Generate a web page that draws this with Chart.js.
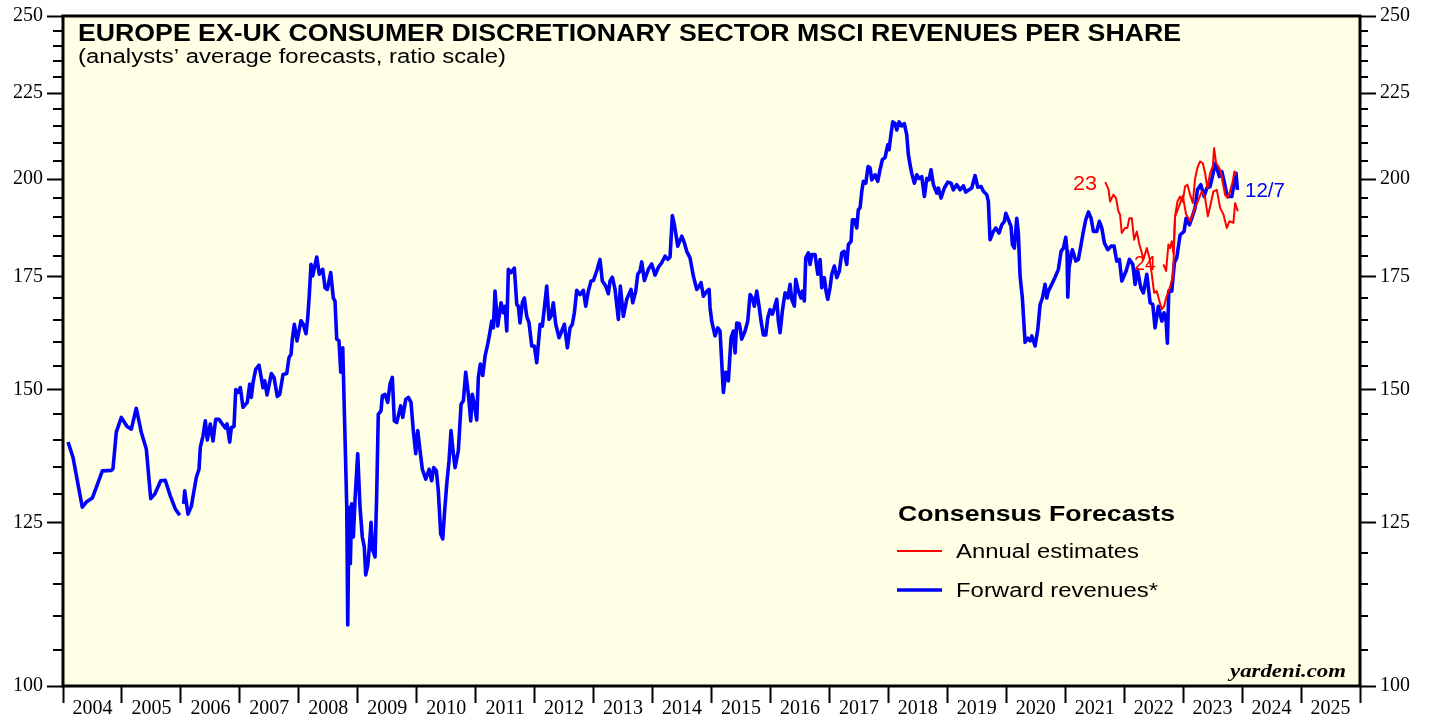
<!DOCTYPE html>
<html><head><meta charset="utf-8">
<script src="https://cdn.jsdelivr.net/npm/chart.js@4/dist/chart.umd.min.js"></script>
<style>html,body{margin:0;padding:0;background:#fff;overflow:hidden}</style>
</head><body>
<canvas id="c" width="1429" height="717"></canvas>
<script>
// ---------- DATA ----------
const yearLabels = ['2004','2005','2006','2007','2008','2009','2010','2011','2012','2013','2014','2015','2016','2017','2018','2019','2020','2021','2022','2023','2024','2025'];
const yearBounds = [2004,2005,2006,2007,2008,2009,2010,2011,2012,2013,2014,2015,2016,2017,2018,2019,2020,2021,2022,2023,2024,2025,2026];
const yMajorTicks = [100,125,150,175,200,225,250];
const yMinorTicks = [105,110,115,120,130,135,140,145,155,160,165,170,180,185,190,195,205,210,215,220,230,235,240,245];

const fwdYears = [
2004.085,2004.170,2004.254,2004.327,2004.395,2004.497,2004.565,2004.667,2004.819,2004.848,2004.904,2004.989,
2005.086,2005.159,2005.243,2005.328,2005.413,2005.488,2005.556,2005.657,2005.735,2005.820,2005.905,2005.980,
2006.010,
2006.047,2006.064,2006.120,2006.176,2006.222,2006.261,2006.307,2006.329,2006.375,2006.414,2006.448,2006.499,2006.545,2006.590,2006.646,2006.702,2006.753,2006.782,2006.828,2006.855,2006.901,2006.930,2006.969,
2007.008,2007.053,2007.126,2007.167,2007.194,2007.223,2007.269,2007.325,2007.393,2007.422,2007.461,2007.534,2007.579,2007.635,2007.676,2007.732,2007.795,2007.834,2007.868,2007.890,2007.924,2007.969,
2008.037,2008.076,2008.122,2008.151,2008.178,2008.207,2008.236,2008.304,2008.348,2008.405,2008.445,2008.484,2008.541,2008.585,2008.614,2008.643,2008.682,2008.711,2008.745,2008.772,2008.796,2008.813,2008.830,2008.852,2008.874,2008.897,2008.925,2008.953,2008.999,
2009.038,2009.077,2009.111,2009.135,2009.169,2009.196,2009.225,2009.254,2009.293,2009.321,2009.348,2009.394,2009.417,2009.462,2009.508,2009.547,2009.586,2009.620,2009.661,2009.729,2009.763,2009.814,2009.858,2009.903,2009.942,2009.983,
2010.017,2010.056,2010.095,2010.153,2010.209,2010.254,2010.288,2010.333,2010.366,2010.407,2010.441,2010.468,2010.509,2010.548,2010.582,2010.621,2010.650,2010.706,2010.752,2010.791,2010.831,2010.876,2010.916,2010.943,2010.977,
2011.018,2011.045,2011.079,2011.120,2011.159,2011.204,2011.231,2011.272,2011.300,2011.328,2011.374,2011.430,2011.469,2011.498,2011.527,2011.554,2011.600,2011.656,2011.697,2011.724,2011.752,2011.792,2011.825,2011.866,2011.905,2011.951,2011.995,
2012.036,2012.092,2012.131,2012.165,2012.205,2012.244,2012.278,2012.317,2012.358,2012.414,2012.460,2012.504,2012.555,2012.601,2012.640,2012.674,2012.714,2012.770,2012.826,2012.867,2012.911,2012.957,2012.996,
2013.053,2013.109,2013.148,2013.206,2013.250,2013.279,2013.318,2013.364,2013.420,2013.454,2013.505,2013.562,2013.635,2013.664,2013.715,2013.749,2013.788,2013.817,2013.861,2013.929,2013.986,
2014.043,2014.099,2014.156,2014.212,2014.258,2014.297,2014.336,2014.370,2014.428,2014.496,2014.540,2014.580,2014.636,2014.692,2014.750,2014.794,2014.823,2014.862,2014.920,2014.959,2014.976,
2015.004,2015.060,2015.106,2015.145,2015.201,2015.242,2015.286,2015.332,2015.371,2015.400,2015.428,2015.473,2015.513,2015.569,2015.615,2015.654,2015.693,2015.727,2015.768,2015.807,2015.841,2015.880,2015.920,2015.954,2015.993,
2016.033,2016.066,2016.107,2016.134,2016.163,2016.202,2016.248,2016.294,2016.333,2016.361,2016.406,2016.429,2016.474,2016.519,2016.541,2016.575,2016.599,2016.643,2016.672,2016.701,2016.757,2016.803,2016.842,2016.870,2016.915,2016.943,2016.972,
2017.011,2017.040,2017.084,2017.125,2017.169,2017.210,2017.249,2017.294,2017.322,2017.367,2017.390,2017.424,2017.464,2017.491,2017.520,2017.549,2017.576,2017.617,2017.656,2017.690,2017.719,2017.775,2017.820,2017.859,2017.898,2017.944,2017.990,
2018.012,2018.046,2018.075,2018.114,2018.143,2018.182,2018.227,2018.271,2018.312,2018.339,2018.368,2018.397,2018.441,2018.482,2018.521,2018.566,2018.611,2018.651,2018.690,2018.724,2018.764,2018.821,2018.848,2018.894,2018.950,
2019.008,2019.064,2019.103,2019.160,2019.217,2019.273,2019.313,2019.369,2019.415,2019.470,2019.517,2019.573,2019.612,2019.669,2019.696,2019.725,2019.781,2019.822,2019.878,2019.924,2019.968,2019.992,
2020.036,2020.081,2020.104,2020.138,2020.178,2020.205,2020.234,2020.273,2020.319,2020.365,2020.404,2020.433,2020.489,2020.535,2020.574,2020.613,2020.658,2020.687,2020.714,2020.772,2020.828,2020.884,2020.930,2020.969,
2021.009,2021.031,2021.043,2021.065,2021.121,2021.179,2021.223,2021.269,2021.308,2021.348,2021.393,2021.439,2021.478,2021.535,2021.579,2021.620,2021.664,2021.722,2021.778,2021.829,2021.874,2021.919,2021.960,
2022.033,2022.089,2022.146,2022.185,2022.224,2022.282,2022.326,2022.384,2022.440,2022.485,2022.524,2022.580,2022.638,2022.677,2022.711,2022.733,2022.756,2022.807,2022.852,2022.892,2022.948,
2023.016,2023.050,2023.106,2023.147,2023.203,2023.242,2023.300,2023.356,2023.402,2023.457,2023.503,2023.542,2023.571,2023.616,2023.656,2023.695,2023.741,2023.785,2023.826,2023.864,2023.898,2023.921
];
const fwdValues = [
139.6,136.7,131.8,127.7,128.6,129.3,131.2,134.2,134.3,134.6,141.5,144.4,
142.6,142.1,146.2,141.5,138.3,129.2,130.0,132.4,132.5,129.7,127.4,126.3,
null,
128.3,130.6,126.5,127.8,130.6,133.0,134.5,138.6,140.8,143.7,140.0,143.1,139.8,144.0,144.0,143.1,142.3,143.1,139.6,142.4,142.6,150.0,149.4,
150.4,146.4,147.4,151.1,148.4,151.4,154.2,155.1,150.4,151.8,148.9,153.3,152.5,148.6,149.0,153.1,153.3,156.7,157.4,160.7,164.0,160.3,
164.8,164.0,161.9,165.4,170.8,178.0,175.2,179.8,175.6,176.8,172.4,172.0,176.0,170.0,169.3,160.7,160.3,153.6,158.8,145.7,135.1,127.7,108.7,127.7,118.2,128.3,122.6,128.9,137.4,
127.7,122.6,120.9,116.4,117.9,120.9,125.1,120.4,119.3,130.0,145.0,145.7,148.7,149.0,147.4,151.1,152.5,143.7,143.4,146.7,144.4,148.0,148.4,147.4,141.8,137.4,
141.8,138.0,134.5,132.7,134.5,132.4,134.8,134.2,130.6,123.1,122.3,126.3,131.8,136.1,141.8,137.4,134.8,138.0,147.0,147.7,153.6,149.0,143.7,149.0,147.0,
143.9,152.5,155.3,152.9,157.0,159.6,161.4,164.7,163.2,171.6,163.6,168.9,166.6,168.1,162.5,176.8,176.0,177.1,168.5,168.1,164.3,168.9,170.0,165.8,164.3,159.2,159.2,
155.6,164.0,163.6,167.7,172.8,165.1,165.8,168.9,164.0,161.0,162.5,164.0,158.8,163.2,164.0,166.6,171.8,170.8,171.8,168.1,171.6,174.0,174.1,
176.4,179.2,174.0,172.8,171.0,174.0,174.9,172.0,165.1,172.8,165.8,169.7,172.0,168.9,171.6,175.6,176.4,178.6,174.1,176.8,178.1,
175.4,177.3,178.4,180.0,179.2,179.8,190.3,187.9,182.5,185.0,183.3,181.2,179.6,175.2,172.0,172.8,173.6,170.4,171.6,172.0,167.7,
164.7,161.4,163.2,162.5,149.4,153.6,151.8,161.0,162.5,157.7,164.3,164.1,160.7,162.5,164.7,170.8,170.0,168.1,171.6,168.1,164.7,161.6,161.6,165.4,167.3,
166.3,167.7,169.7,164.7,162.1,167.0,171.2,170.0,173.2,169.7,168.1,174.4,171.6,170.0,171.6,169.3,179.6,180.8,178.0,180.4,180.4,175.6,179.2,172.4,174.8,171.6,169.7,
172.4,175.6,177.6,174.8,176.4,180.8,181.2,178.0,182.9,183.7,189.2,189.2,187.1,191.8,192.3,196.7,199.4,198.9,203.5,203.1,199.8,201.2,199.4,202.6,205.4,206.0,209.6,
208.2,212.9,216.3,215.8,213.9,216.3,215.1,215.8,212.5,206.9,204.0,201.6,198.9,201.2,200.2,200.7,195.3,200.2,199.8,202.6,198.5,196.2,197.6,194.9,197.6,
199.2,198.9,197.1,198.5,197.1,198.2,196.5,197.1,197.6,201.0,197.8,198.0,196.7,195.8,194.0,184.1,186.2,187.1,185.8,187.9,188.8,190.9,
189.2,187.5,182.9,182.0,189.6,185.8,175.2,170.0,160.0,160.9,160.3,161.4,159.2,162.9,168.5,170.0,173.2,170.0,171.6,173.2,174.9,176.8,181.2,182.0,
184.7,181.2,170.2,177.2,181.6,178.8,179.2,182.9,186.2,189.2,191.2,189.6,186.2,186.2,188.8,187.1,183.3,181.6,182.5,182.5,178.8,179.2,174.0,
176.4,179.2,178.0,173.2,176.8,172.4,171.2,175.6,168.9,168.5,163.2,168.1,164.7,166.6,164.7,159.8,171.6,171.6,178.4,179.6,185.3,
186.2,189.6,187.9,189.6,192.3,197.1,198.5,195.3,197.6,198.0,201.2,204.4,203.1,200.7,202.1,199.4,195.8,195.3,195.3,198.9,201.6,197.1
];

const est23Years = [2021.679,2021.733,2021.761,2021.817,2021.862,2021.902,2021.930,2021.959,2022.015,2022.054,2022.088,2022.129,2022.168,2022.214,2022.258,2022.299,2022.326,2022.384,2022.428,2022.469,2022.508,2022.553,2022.597,2022.638,
2022.677,2022.711,2022.779,2022.829,2022.863,2022.920,2022.994,2023.050,2023.118,2023.203,2023.317,2023.373,2023.419,2023.457,2023.514,2023.571,2023.627,2023.683,2023.741,2023.785,2023.853,2023.882,2023.927];
const est23Values = [199.2,197.3,194.0,195.8,194.9,191.4,190.5,185.8,187.1,187.1,189.6,189.6,184.1,186.2,182.9,180.8,179.2,182.0,179.6,175.6,171.2,171.6,169.3,167.4,
168.1,170.0,172.7,175.1,190.1,192.3,195.5,190.6,188.8,192.3,196.7,194.9,190.1,192.6,196.7,197.1,192.3,190.6,187.1,188.8,188.4,193.6,191.4];

const est24Years = [2022.665,2022.711,2022.750,2022.778,2022.807,2022.835,2022.863,2022.903,2022.948,2022.994,2023.033,2023.072,2023.118,2023.164,2023.203,2023.242,2023.288,2023.334,2023.373,2023.412,2023.457,2023.503,2023.525,2023.559,2023.598,2023.639,2023.673,2023.712,2023.751,2023.796,2023.842,2023.869,2023.898];
const est24Values = [178.0,176.4,182.9,182.0,183.7,180.8,190.1,194.0,195.3,194.0,198.0,198.5,195.8,193.6,200.2,203.1,204.9,204.4,201.6,197.6,201.6,203.5,208.7,204.4,203.5,202.1,198.9,195.8,194.9,196.7,199.4,202.1,201.2];

// ---------- CHART ----------
const BLUE = '#0000FF', RED = '#FF0000', CREAM = '#FFFFE5';
const pts = (xs, ys) => xs.map((x, i) => ({x: x, y: ys[i]}));

function drawFit(ctx, text, font, x, y, width, color) {
  ctx.save();
  ctx.font = font;
  ctx.fillStyle = color;
  ctx.textBaseline = 'alphabetic';
  ctx.textAlign = 'left';
  const w = ctx.measureText(text).width;
  const s = width ? width / w : 1;
  ctx.translate(x, y);
  ctx.scale(s, 1);
  ctx.fillText(text, 0, 0);
  ctx.restore();
}

const SANS = '"Liberation Sans", Arial, sans-serif';

const decor = {
  id: 'decor',
  beforeDraw(chart) {
    const {ctx, chartArea: a} = chart;
    ctx.save();
    ctx.fillStyle = CREAM;
    ctx.fillRect(a.left, a.top, a.right - a.left, a.bottom - a.top);
    ctx.restore();
  },
  afterDraw(chart) {
    const {ctx, chartArea: a} = chart;
    const yL = chart.scales.yL;
    ctx.save();
    ctx.strokeStyle = '#000';
    ctx.lineWidth = 2;
    yMinorTicks.forEach(v => {
      const p = Math.round(yL.getPixelForValue(v));
      ctx.beginPath();
      ctx.moveTo(a.left - 10, p); ctx.lineTo(a.left, p);
      ctx.moveTo(a.right, p); ctx.lineTo(a.right + 8, p);
      ctx.stroke();
    });
    ctx.lineWidth = 3;
    ctx.strokeRect(a.left, a.top, a.right - a.left, a.bottom - a.top);
    ctx.restore();

    drawFit(ctx, 'EUROPE EX-UK CONSUMER DISCRETIONARY SECTOR MSCI REVENUES PER SHARE', 'bold 23px ' + SANS, 78, 41, 1103, '#000');
    drawFit(ctx, '(analysts\u2019 average forecasts, ratio scale)', '20px ' + SANS, 78, 63, 428, '#000');

    drawFit(ctx, 'Consensus Forecasts', 'bold 22px ' + SANS, 898, 521, 277, '#000');
    drawFit(ctx, 'Annual estimates', '20px ' + SANS, 956, 558, 183, '#000');
    drawFit(ctx, 'Forward revenues*', '20px ' + SANS, 956, 597, 202, '#000');
    ctx.save();
    ctx.strokeStyle = RED; ctx.lineWidth = 2;
    ctx.beginPath(); ctx.moveTo(897, 551); ctx.lineTo(942, 551); ctx.stroke();
    ctx.strokeStyle = BLUE; ctx.lineWidth = 3.6;
    ctx.beginPath(); ctx.moveTo(897, 590); ctx.lineTo(942, 590); ctx.stroke();
    ctx.restore();

    drawFit(ctx, '23', '20px ' + SANS, 1073, 190, 24, RED);
    drawFit(ctx, '24', '20px ' + SANS, 1134, 270, 22, RED);
    drawFit(ctx, '12/7', '20px ' + SANS, 1245, 197, 40, BLUE);

    drawFit(ctx, 'yardeni.com', 'bold italic 19px "Liberation Serif", "Times New Roman", serif', 1230, 677, 116, '#000');
  }
};

const serifFont = {family: '"Liberation Serif", "Times New Roman", serif', size: 20};

function yAxis(pos, width) {
  return {
    type: 'logarithmic',
    position: pos,
    min: 100, max: 250,
    afterBuildTicks: s => { s.ticks = yMajorTicks.concat(yMinorTicks).sort((p, q) => p - q).map(v => ({value: v})); },
    afterFit: s => { s.width = width; },
    border: {display: false},
    grid: {
      drawOnChartArea: false, drawTicks: true, tickLength: 16, tickWidth: 2,
      tickColor: c => (yMajorTicks.includes(c.tick.value) ? '#000' : 'rgba(0,0,0,0)')
    },
    ticks: {
      autoSkip: false, padding: 4, color: '#000', font: serifFont,
      callback: v => (yMajorTicks.includes(v) ? String(v) : '')
    }
  };
}

new Chart(document.getElementById('c'), {
  type: 'line',
  data: {
    datasets: [
      {label: 'Annual estimates 23', data: pts(est23Years, est23Values), borderColor: RED, borderWidth: 2, pointRadius: 0, yAxisID: 'yL', xAxisID: 'x'},
      {label: 'Annual estimates 24', data: pts(est24Years, est24Values), borderColor: RED, borderWidth: 2, pointRadius: 0, yAxisID: 'yL', xAxisID: 'x'},
      {label: 'Forward revenues*', data: pts(fwdYears, fwdValues), borderColor: BLUE, borderWidth: 3.6, pointRadius: 0, spanGaps: false, yAxisID: 'yL', xAxisID: 'x'}
    ]
  },
  options: {
    responsive: false,
    animation: false,
    devicePixelRatio: 1,
    layout: {padding: {top: 14, left: 0, right: 0, bottom: 0}},
    plugins: {legend: {display: false}, tooltip: {enabled: false}},
    elements: {line: {tension: 0, borderJoinStyle: 'round'}},
    scales: {
      x: {
        type: 'linear', position: 'bottom', min: 2004, max: 2026,
        afterBuildTicks: s => {
          const t = [];
          yearLabels.forEach((lab, i) => { t.push({value: yearBounds[i]}); t.push({value: yearBounds[i] + 0.5}); });
          t.push({value: yearBounds[yearBounds.length - 1]});
          s.ticks = t;
        },
        afterFit: s => { s.height = 31; },
        border: {display: false},
        grid: {
          drawOnChartArea: false, drawTicks: true, tickLength: 17, tickWidth: 2,
          tickColor: c => (c.index % 2 === 0 ? '#000' : 'rgba(0,0,0,0)')
        },
        ticks: {
          autoSkip: false, maxRotation: 0, padding: -6, color: '#000', font: serifFont,
          callback: (v, i) => (i % 2 === 1 ? yearLabels[(i - 1) / 2] : '')
        }
      },
      yL: yAxis('left', 63),
      yR: yAxis('right', 69)
    }
  },
  plugins: [decor]
});
</script>
</body></html>
